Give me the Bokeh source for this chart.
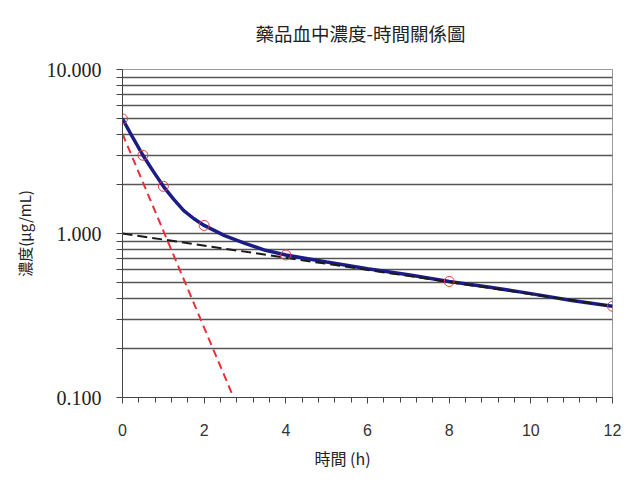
from bokeh.plotting import figure
from bokeh.models import SingleIntervalTicker, FixedTicker, Title, PrintfTickFormatter
from bokeh.embed import file_html
from bokeh.resources import INLINE

title_text = "藥品血中濃度-時間關係圖"
x_label = "時間 (h)"
y_label = "濃度(μg/mL)"

# observed concentrations (circles)
obs_time = [0, 0.5, 1, 2, 4, 8, 12]
obs_conc = [5.0, 3.0, 1.94, 1.12, 0.74, 0.51, 0.36]

# smoothed curve
curve_time = [0, 0.25, 0.5, 0.75, 1, 1.25, 1.5, 1.75, 2, 2.5, 3, 3.5, 4, 5, 6, 7, 8, 9, 10, 11, 12]
curve_conc = [5.0, 3.85, 3.0, 2.4, 1.94, 1.62, 1.38, 1.23, 1.12, 0.97, 0.87, 0.79, 0.74,
              0.67, 0.61, 0.56, 0.51, 0.47, 0.43, 0.39, 0.36]

# terminal (beta) phase back-extrapolation, black dashed
beta_time = [0, 12]
beta_conc = [1.0, 0.36]

# residual (alpha) phase, red dashed
alpha_time = [0, 2.72]
alpha_conc = [4.05, 0.1]

y_major = [0.1, 1, 10]
y_minor = [m * d for d in (0.1, 1) for m in range(2, 10)]

p = figure(width=638, height=497, y_axis_type="log",
           x_range=(0, 12), y_range=(0.1, 10),
           output_backend="svg", toolbar_location=None,
           min_border_left=122, min_border_right=26,
           min_border_top=69, min_border_bottom=100,
           background_fill_color="white", border_fill_color="white")

p.title.text = title_text
p.title.align = "left"
p.title.offset = 133
p.title.standoff = 10
p.title.text_font = "Noto Sans CJK TC"
p.title.text_font_size = "18.5px"
p.title.text_font_style = "normal"
p.title.text_color = "#222222"

# empty spacer between title and plot area
spacer = Title(text=" ", standoff=0, text_font_size="16px")
p.add_layout(spacer, "above")

p.outline_line_color = "#999999"
p.outline_line_width = 1

# axes
yt = FixedTicker(ticks=y_major, minor_ticks=y_minor)
p.yaxis.ticker = yt
p.yaxis.formatter = PrintfTickFormatter(format="%.3f")
p.yaxis.major_label_text_font = "Liberation Serif"
p.yaxis.major_label_text_font_size = "20px"
p.yaxis.major_label_text_color = "#222222"
p.yaxis.major_tick_out = 6
p.yaxis.major_tick_in = 0
p.yaxis.minor_tick_out = 6
p.yaxis.minor_tick_in = 0
p.yaxis.major_label_standoff = 15
p.yaxis.axis_line_color = "#444444"
p.yaxis.major_tick_line_color = "#444444"
p.yaxis.minor_tick_line_color = "#444444"
p.yaxis.axis_label = y_label
p.yaxis.axis_label_text_font = "Noto Sans CJK TC"
p.yaxis.axis_label_text_font_size = "15px"
p.yaxis.axis_label_text_font_style = "normal"
p.yaxis.axis_label_text_color = "#222222"
p.yaxis.axis_label_standoff = 9

p.xaxis.ticker = SingleIntervalTicker(interval=2, num_minor_ticks=5)
p.xaxis.major_label_text_font = "Liberation Sans"
p.xaxis.major_label_text_font_size = "16px"
p.xaxis.major_label_text_color = "#333333"
p.xaxis.major_tick_out = 6
p.xaxis.major_tick_in = 0
p.xaxis.minor_tick_out = 5
p.xaxis.minor_tick_in = 0
p.xaxis.major_label_standoff = 20
p.xaxis.axis_line_color = "#444444"
p.xaxis.major_tick_line_color = "#444444"
p.xaxis.minor_tick_line_color = "#444444"

# grid
p.xgrid.grid_line_color = None
p.ygrid.ticker = yt
p.ygrid.grid_line_color = "#555555"
p.ygrid.grid_line_width = 1.5
p.ygrid.minor_grid_line_color = "#555555"
p.ygrid.minor_grid_line_width = 1.5

# data
p.line(curve_time, curve_conc, line_color="#1c1c86", line_width=3.5)
p.line(beta_time, beta_conc, line_color="#1a1a1a", line_width=2, line_dash="10 5")
p.line(alpha_time, alpha_conc, line_color="#e8303a", line_width=2, line_dash="8 5")
p.scatter(obs_time, obs_conc, marker="circle", size=10, fill_color=None,
          line_color="#e04040", line_width=1)

xl = Title(text=x_label, align="left", offset=192, standoff=10,
           text_font="Noto Sans CJK TC", text_font_size="16px",
           text_font_style="normal", text_color="#222222")
p.add_layout(xl, "below")

open("out.html", "w").write(file_html(p, INLINE))
